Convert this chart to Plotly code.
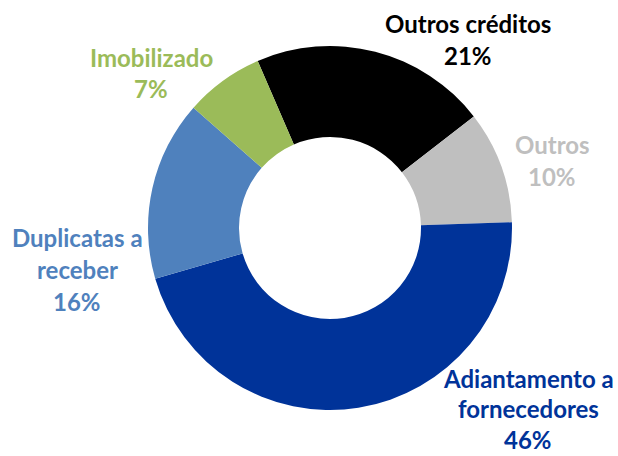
import plotly.graph_objects as go

W, H = 618, 456

# Data
categories = ["Outros créditos", "Outros", "Adiantamento a fornecedores",
              "Duplicatas a receber", "Imobilizado"]
values = [21, 10, 46, 16, 7]
colors = ["#000000", "#BFBFBF", "#003399", "#4F81BD", "#9BBB59"]
# display line breaks of each label
label_lines = [["Outros créditos"], ["Outros"], ["Adiantamento a", "fornecedores"],
               ["Duplicatas a", "receber"], ["Imobilizado"]]

# label block anchors (pixel x center, pixel y of first line center, line gap)
label_pos = [(468, 24, 31.5), (552, 145, 31.5), (528, 378, 30.5), (77, 238, 31.5), (151, 57, 31.5)]

# pie geometry
cx, cy, r = 330, 228, 182

fig = go.Figure(go.Pie(
    labels=categories,
    values=values,
    marker=dict(colors=colors, line=dict(width=0)),
    hole=0.5,
    sort=False,
    direction="clockwise",
    rotation=-23.4,
    textinfo="none",
    hoverinfo="label+percent",
    domain=dict(x=[(cx - r) / W, (cx + r) / W], y=[1 - (cy + r) / H, 1 - (cy - r) / H]),
    showlegend=False,
))

total = sum(values)
annotations = []
for lines, v, col, (px, py, gap) in zip(label_lines, values, colors, label_pos):
    all_lines = lines + [f"{round(100 * v / total)}%"]
    for i, t in enumerate(all_lines):
        annotations.append(dict(
            x=px / W, y=1 - (py + i * gap) / H, xref="paper", yref="paper",
            text=t, showarrow=False, xanchor="center", yanchor="middle",
            borderpad=0,
            font=dict(family="Lato", size=24, color=col, weight="bold"),
        ))

fig.update_layout(
    width=W, height=H,
    margin=dict(l=0, r=0, t=0, b=0),
    paper_bgcolor="white",
    plot_bgcolor="white",
    annotations=annotations,
)

fig.write_html("out.html", config={"displayModeBar": False},
               post_script="document.body.style.margin='0';")
